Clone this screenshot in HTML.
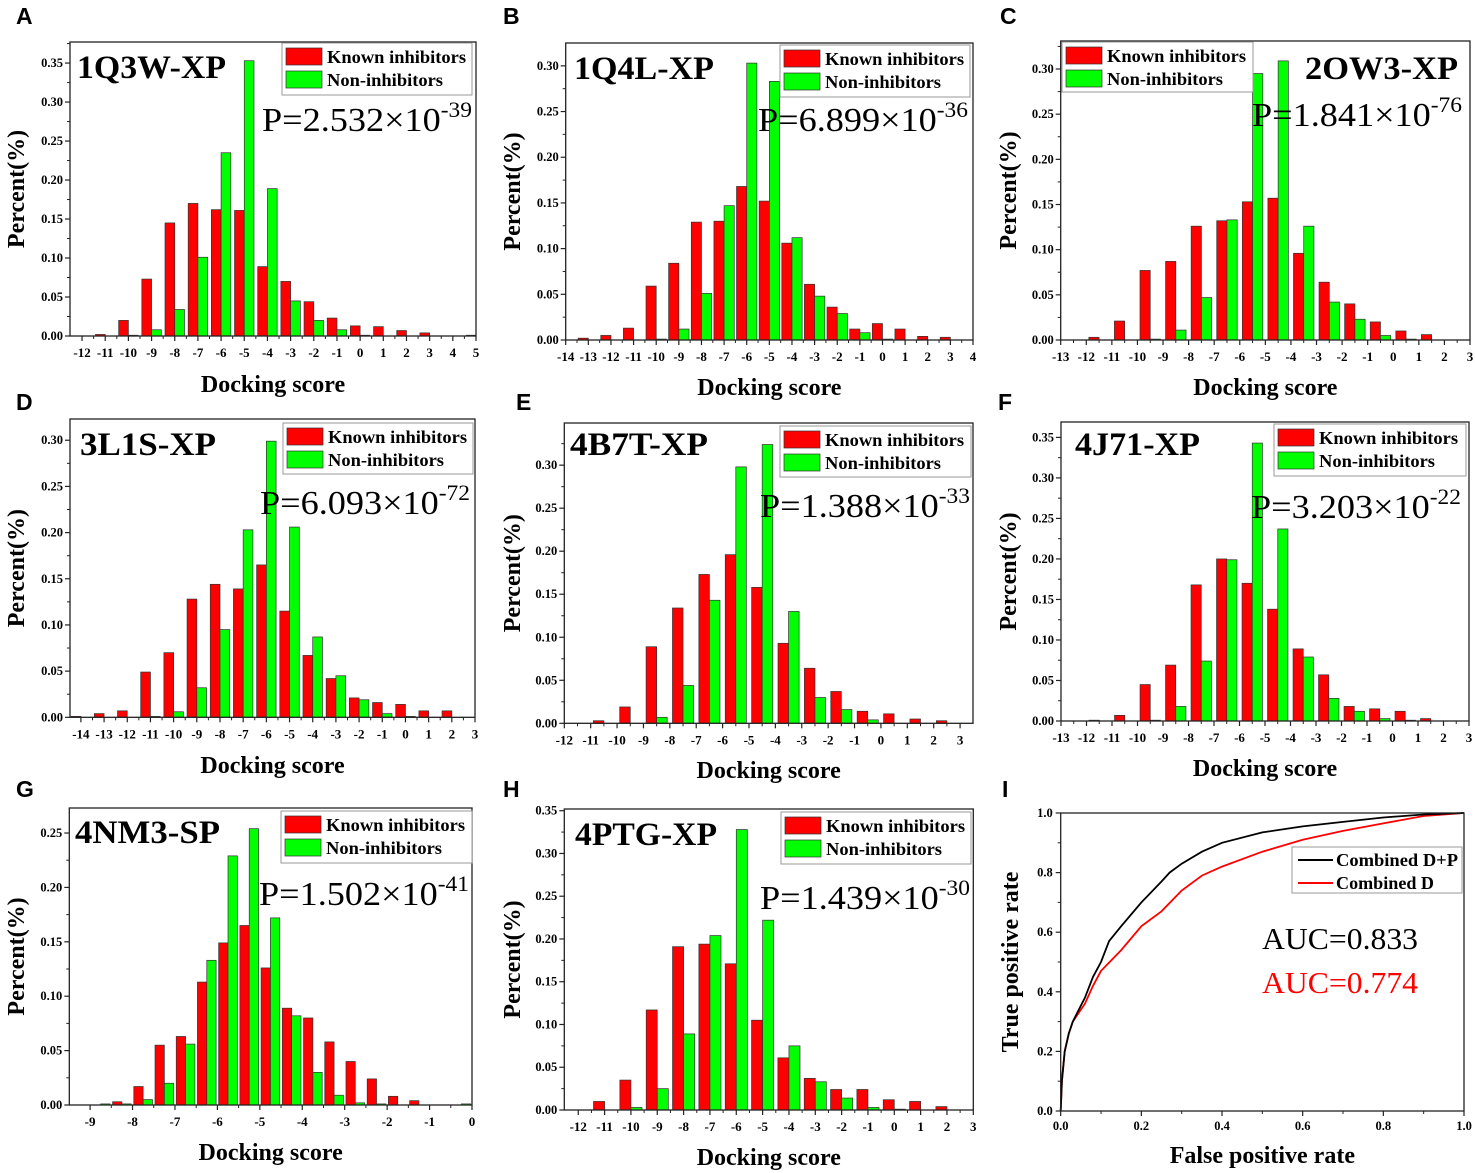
<!DOCTYPE html>
<html><head><meta charset="utf-8">
<style>
html,body{margin:0;padding:0;background:#fff;}
svg{display:block;}
text{font-family:"Liberation Serif",serif;}
.lbl{font-family:"Liberation Sans",sans-serif;font-weight:bold;font-size:23px;}
</style></head>
<body>
<svg id="fig" width="1475" height="1173" viewBox="0 0 1475 1173" xmlns="http://www.w3.org/2000/svg"></svg>
<script>
// ---- data (bin centers, known inhibitors, non-inhibitors) ----
const aCats=[-12,-11,-10,-9,-8,-7,-6,-5,-4,-3,-2,-1,0,1,2,3,4,5];
const aRed=[0,0.002,0.020,0.073,0.145,0.170,0.162,0.161,0.089,0.070,0.044,0.023,0.013,0.012,0.007,0.004,0,0.001];
const aGreen=[0,0,0.001,0.008,0.034,0.101,0.235,0.353,0.189,0.045,0.020,0.008,0.001,0,0,0,0,0];
const bCats=[-13,-12,-11,-10,-9,-8,-7,-6,-5,-4,-3,-2,-1,0,1,2,3];
const bRed=[0.002,0.005,0.013,0.059,0.084,0.129,0.130,0.168,0.152,0.106,0.061,0.036,0.012,0.018,0.012,0.004,0.003];
const bGreen=[0,0,0,0.001,0.012,0.051,0.147,0.303,0.283,0.112,0.048,0.029,0.008,0.001,0,0,0];
const cCats=[-11.5,-10.5,-9.5,-8.5,-7.5,-6.5,-5.5,-4.5,-3.5,-2.5,-1.5,-0.5,0.5,1.5];
const cRed=[0.003,0.021,0.077,0.087,0.126,0.132,0.153,0.157,0.096,0.064,0.040,0.020,0.010,0.006];
const cGreen=[0,0,0.001,0.011,0.047,0.133,0.295,0.309,0.126,0.042,0.023,0.005,0.001,0];
const dCats=[-14,-13,-12,-11,-10,-9,-8,-7,-6,-5,-4,-3,-2,-1,0,1,2];
const dRed=[0.001,0.004,0.007,0.049,0.070,0.128,0.144,0.139,0.165,0.115,0.067,0.042,0.021,0.016,0.014,0.007,0.007];
const dGreen=[0,0,0,0.001,0.006,0.032,0.095,0.203,0.299,0.206,0.087,0.045,0.019,0.004,0.001,0,0];
const eCats=[-10.5,-9.5,-8.5,-7.5,-6.5,-5.5,-4.5,-3.5,-2.5,-1.5,-0.5,0.5,1.5,2.5];
const eRed=[0.003,0.019,0.089,0.134,0.173,0.196,0.158,0.093,0.064,0.037,0.014,0.011,0.005,0.003];
const eGreen=[0,0,0.007,0.044,0.143,0.298,0.324,0.130,0.030,0.016,0.004,0,0,0];
const fCats=[-11.5,-10.5,-9.5,-8.5,-7.5,-6.5,-5.5,-4.5,-3.5,-2.5,-1.5,-0.5,0.5,1.5];
const fRed=[0.001,0.007,0.045,0.069,0.168,0.200,0.170,0.138,0.089,0.057,0.018,0.015,0.012,0.003];
const fGreen=[0,0,0.001,0.018,0.074,0.199,0.343,0.237,0.079,0.028,0.012,0.003,0.001,0];
const gCats=[-8.75,-8.25,-7.75,-7.25,-6.75,-6.25,-5.75,-5.25,-4.75,-4.25,-3.75,-3.25,-2.75,-2.25,-1.75,-1.25,-0.75,-0.25];
const gRed=[0,0.003,0.017,0.055,0.063,0.113,0.149,0.165,0.126,0.089,0.080,0.058,0.040,0.024,0.008,0.004,0,0];
const gGreen=[0.001,0.001,0.005,0.020,0.056,0.133,0.229,0.254,0.172,0.082,0.030,0.009,0.002,0.001,0,0,0,0.001];
const hCats=[-11,-10,-9,-8,-7,-6,-5,-4,-3,-2,-1,0,1,2];
const hRed=[0.010,0.035,0.117,0.191,0.194,0.171,0.105,0.061,0.037,0.024,0.024,0.012,0.010,0.004];
const hGreen=[0,0.003,0.025,0.089,0.204,0.328,0.222,0.075,0.033,0.014,0.003,0.001,0,0];
// ROC curves
const rocFprDP=[0,0.003,0.01,0.02,0.03,0.045,0.06,0.08,0.1,0.12,0.15,0.2,0.25,0.27,0.3,0.35,0.4,0.5,0.6,0.7,0.8,0.9,1];
const rocTprDP=[0,0.1,0.2,0.26,0.3,0.34,0.38,0.45,0.5,0.57,0.62,0.7,0.77,0.8,0.83,0.87,0.9,0.935,0.955,0.97,0.985,0.995,1];
const rocFprD=[0,0.003,0.01,0.02,0.03,0.045,0.06,0.08,0.1,0.15,0.2,0.25,0.3,0.35,0.4,0.5,0.6,0.7,0.8,0.9,1];
const rocTprD=[0,0.1,0.2,0.26,0.3,0.33,0.36,0.42,0.47,0.54,0.62,0.67,0.74,0.79,0.82,0.87,0.91,0.94,0.965,0.99,1];
const xTicksA=[-12,-11,-10,-9,-8,-7,-6,-5,-4,-3,-2,-1,0,1,2,3,4,5];
const xTicksB=[-14,-13,-12,-11,-10,-9,-8,-7,-6,-5,-4,-3,-2,-1,0,1,2,3,4];
const xTicksC=[-13,-12,-11,-10,-9,-8,-7,-6,-5,-4,-3,-2,-1,0,1,2,3];
const xTicksD=[-14,-13,-12,-11,-10,-9,-8,-7,-6,-5,-4,-3,-2,-1,0,1,2,3];
const xTicksE=[-12,-11,-10,-9,-8,-7,-6,-5,-4,-3,-2,-1,0,1,2,3];
const xTicksG=[-9,-8,-7,-6,-5,-4,-3,-2,-1,0];
const yTicks30=[0,0.05,0.10,0.15,0.20,0.25,0.30];
const yTicks35=[0,0.05,0.10,0.15,0.20,0.25,0.30,0.35];
const yTicks25=[0,0.05,0.10,0.15,0.20,0.25];
const rocTicks=[0,0.2,0.4,0.6,0.8,1.0];

const NS="http://www.w3.org/2000/svg";
const fig=document.getElementById('fig');
function mk(tag,attrs,parent,txt){const e=document.createElementNS(NS,tag);for(const k in attrs)e.setAttribute(k,attrs[k]);if(txt!==undefined)e.textContent=txt;(parent||fig).appendChild(e);return e;}

const panels=[
 {id:'a',letter:'A',lx:16,ly:24,L:70,R:476,T:42,B:336,xmin:-12.52,xmax:5,ymax:0.377,cats:aCats,red:aRed,green:aGreen,bw:0.42,xt:xTicksA,yt:yTicks35,title:'1Q3W-XP',tx:77,ty:78,tw:149,p:'2.532',e:'-39',px:262,py:131,lg:[282,43,190,52],xtitleY:392,ytx:16},
 {id:'b',letter:'B',lx:503,ly:24,L:565.7,R:973,T:43,B:340,xmin:-14,xmax:4,ymax:0.325,cats:bCats,red:bRed,green:bGreen,bw:0.45,xt:xTicksB,yt:yTicks30,title:'1Q4L-XP',tx:574,ty:79,tw:140,p:'6.899',e:'-36',px:758,py:131,lg:[780,45,190,52],xtitleY:395,ytx:512},
 {id:'c',letter:'C',lx:1000,ly:24,L:1060.7,R:1470,T:41,B:340,xmin:-13,xmax:3,ymax:0.331,cats:cCats,red:cRed,green:cGreen,bw:0.4,xt:xTicksC,yt:yTicks30,title:'2OW3-XP',tx:1305,ty:79,tw:153,p:'1.841',e:'-76',px:1252,py:126,lg:[1062,42,191,50],xtitleY:395,ytx:1008},
 {id:'d',letter:'D',lx:16,ly:410,L:70,R:475,T:419,B:717.3,xmin:-14.47,xmax:3,ymax:0.323,cats:dCats,red:dRed,green:dGreen,bw:0.42,xt:xTicksD,yt:yTicks30,title:'3L1S-XP',tx:80,ty:455,tw:136,p:'6.093',e:'-72',px:260,py:514,lg:[283,423,190,51],xtitleY:773,ytx:16},
 {id:'e',letter:'E',lx:516,ly:410,L:564.3,R:973,T:423,B:723.3,xmin:-12,xmax:3.49,ymax:0.349,cats:eCats,red:eRed,green:eGreen,bw:0.4,xt:xTicksE,yt:yTicks30,title:'4B7T-XP',tx:570,ty:455,tw:138,p:'1.388',e:'-33',px:760,py:517,lg:[780,426,191,51],xtitleY:778,ytx:512},
 {id:'f',letter:'F',lx:998,ly:410,L:1061,R:1469,T:422,B:721,xmin:-13,xmax:3,ymax:0.369,cats:fCats,red:fRed,green:fGreen,bw:0.4,xt:xTicksC,yt:yTicks35,title:'4J71-XP',tx:1075,ty:455,tw:125,p:'3.203',e:'-22',px:1251,py:518,lg:[1274,424,192,52],xtitleY:776,ytx:1008},
 {id:'g',letter:'G',lx:16,ly:797,L:69.3,R:472,T:808,B:1105,xmin:-9.49,xmax:0,ymax:0.273,cats:gCats,red:gRed,green:gGreen,bw:0.22,xt:xTicksG,yt:yTicks25,title:'4NM3-SP',tx:75,ty:843,tw:145,p:'1.502',e:'-41',px:259,py:905,lg:[281,811,191,52],xtitleY:1160,ytx:16},
 {id:'h',letter:'H',lx:503,ly:797,L:564.3,R:973.3,T:809,B:1110,xmin:-12.53,xmax:3,ymax:0.352,cats:hCats,red:hRed,green:hGreen,bw:0.42,xt:xTicksE,yt:yTicks35,title:'4PTG-XP',tx:575,ty:845,tw:142,p:'1.439',e:'-30',px:760,py:909,lg:[781,812,190,52],xtitleY:1165,ytx:512}
];

panels.forEach(P=>{
  const g=mk('g',{});
  
  
  const sx=v=>P.L+(v-P.xmin)/(P.xmax-P.xmin)*(P.R-P.L);
  const sy=v=>P.B-v/P.ymax*(P.B-P.T);
  const lt=mk('text',{x:P.lx,y:P.ly,class:'lbl'},g,P.letter);
  
  
  P.cats.forEach((c,i)=>{
    if(P.red[i]>0){
      const r=mk('rect',{x:sx(c-P.bw),y:sy(P.red[i]),width:sx(c)-sx(c-P.bw),height:P.B-sy(P.red[i]),fill:'#ff0000',stroke:'#333','stroke-width':0.7},g);
      
      
    }
    if(P.green[i]>0){
      const r=mk('rect',{x:sx(c),y:sy(P.green[i]),width:sx(c+P.bw)-sx(c),height:P.B-sy(P.green[i]),fill:'#00ff00',stroke:'#333','stroke-width':0.7},g);
      
      
    }
  });
  const fr=mk('rect',{x:P.L,y:P.T,width:P.R-P.L,height:P.B-P.T,fill:'none',stroke:'#222','stroke-width':1.3},g);
  
  
  const xstep=P.xt[1]-P.xt[0];
  P.xt.forEach((t,i)=>{
    const x=sx(t);
    mk('line',{x1:x,y1:P.B,x2:x,y2:P.B+5,stroke:'#222','stroke-width':1.2},g);
    if(i<P.xt.length-1){const xm=sx(t+xstep/2);mk('line',{x1:xm,y1:P.B,x2:xm,y2:P.B+3,stroke:'#222','stroke-width':1},g);}
    const tl=mk('text',{x:x,y:P.B+21,'text-anchor':'middle','font-size':13,'font-weight':'bold'},g,String(t));
    
    
  });
  P.yt.forEach((t,i)=>{
    const y=sy(t);
    mk('line',{x1:P.L-5,y1:y,x2:P.L,y2:y,stroke:'#222','stroke-width':1.2},g);
    const ym=sy(t+0.025);
    if(ym>P.T+1) mk('line',{x1:P.L-3,y1:ym,x2:P.L,y2:ym,stroke:'#222','stroke-width':1},g);
    const tl=mk('text',{x:P.L-7,y:y+4,'text-anchor':'end','font-size':12.5,'font-weight':'bold'},g,t.toFixed(2));
    
    
  });
  const xtl=mk('text',{x:(P.L+P.R)/2,y:P.xtitleY,'text-anchor':'middle','font-size':24,'font-weight':'bold'},g,'Docking score');
  
  
  const cy=(P.T+P.B)/2;
  const ytl=mk('text',{x:P.ytx,y:cy,'text-anchor':'middle','font-size':24,'font-weight':'bold',transform:'rotate(-90 '+(P.ytx)+' '+cy+')',dy:8},g,'Percent(%)');
  
  
  const tt=mk('text',{x:P.tx,y:P.ty,'font-size':33,'font-weight':'bold',textLength:P.tw,lengthAdjust:'spacingAndGlyphs'},g,P.title);
  
  
  const pt=mk('text',{x:P.px,y:P.py,'font-size':34,textLength:210,lengthAdjust:'spacingAndGlyphs'},g);
  
  
  mk('tspan',{},pt,'P='+P.p+'×10');
  mk('tspan',{dy:-14,'font-size':22},pt,P.e);
  const [lx,ly,lw,lh]=P.lg;
  const lg=mk('g',{},g);
  
  
  mk('rect',{x:lx,y:ly,width:lw,height:lh,fill:'#fff',stroke:'#999','stroke-width':1},lg);
  mk('rect',{x:lx+4,y:ly+5,width:36,height:17,fill:'#ff0000',stroke:'#333','stroke-width':0.7},lg);
  mk('rect',{x:lx+4,y:ly+28,width:36,height:17,fill:'#00ff00',stroke:'#333','stroke-width':0.7},lg);
  const l1=mk('text',{x:lx+45,y:ly+20,'font-size':18,'font-weight':'bold',textLength:139,lengthAdjust:'spacingAndGlyphs'},lg,'Known inhibitors');
  
  
  const l2=mk('text',{x:lx+45,y:ly+43,'font-size':18,'font-weight':'bold',textLength:116,lengthAdjust:'spacingAndGlyphs'},lg,'Non-inhibitors');
  
  
});

// ---- ROC panel ----
(function(){
  const L=1060.7,R=1464,T=813,B=1111;
  const g=mk('g',{});
  
  
  const sx=v=>L+v*(R-L), sy=v=>B-v*(B-T);
  const lt=mk('text',{x:1002,y:797,class:'lbl'},g,'I');
  
  
  function curve(xs,ys,col,name){
    const d=xs.map((x,i)=>(i?'L':'M')+sx(x).toFixed(1)+' '+sy(ys[i]).toFixed(1)).join(' ');
    const p=mk('path',{d:d,fill:'none',stroke:col,'stroke-width':1.8},g);
    
    
  }
  curve(rocFprD,rocTprD,'#ff0000','roc-curve-combined-d');
  curve(rocFprDP,rocTprDP,'#000','roc-curve-combined-dp');
  const fr=mk('rect',{x:L,y:T,width:R-L,height:B-T,fill:'none',stroke:'#222','stroke-width':1.3},g);
  
  
  rocTicks.forEach((t,i)=>{
    mk('line',{x1:sx(t),y1:B,x2:sx(t),y2:B+5,stroke:'#222','stroke-width':1.2},g);
    mk('line',{x1:L-5,y1:sy(t),x2:L,y2:sy(t),stroke:'#222','stroke-width':1.2},g);
    if(i<rocTicks.length-1){
      mk('line',{x1:sx(t+0.1),y1:B,x2:sx(t+0.1),y2:B+3,stroke:'#222','stroke-width':1},g);
      mk('line',{x1:L-3,y1:sy(t+0.1),x2:L,y2:sy(t+0.1),stroke:'#222','stroke-width':1},g);
    }
    const xl=mk('text',{x:sx(t),y:B+19,'text-anchor':'middle','font-size':12.5,'font-weight':'bold'},g,t.toFixed(1));
    
    
    const yl=mk('text',{x:L-8,y:sy(t)+4,'text-anchor':'end','font-size':12.5,'font-weight':'bold'},g,t.toFixed(1));
    
    
  });
  const xt=mk('text',{x:(L+R)/2,y:1163,'text-anchor':'middle','font-size':24,'font-weight':'bold'},g,'False positive rate');
  
  
  const cy=(T+B)/2;
  const yt=mk('text',{x:1010,y:cy,'text-anchor':'middle','font-size':24,'font-weight':'bold',transform:'rotate(-90 1010 '+cy+')',dy:8},g,'True positive rate');
  
  
  const lg=mk('g',{},g);
  
  
  mk('rect',{x:1292,y:847,width:170,height:46,fill:'#fff',stroke:'#999','stroke-width':1},lg);
  mk('line',{x1:1298,y1:860,x2:1333,y2:860,stroke:'#000','stroke-width':2},lg);
  mk('line',{x1:1298,y1:883,x2:1333,y2:883,stroke:'#ff0000','stroke-width':2},lg);
  const l1=mk('text',{x:1336,y:866,'font-size':17.5,'font-weight':'bold',textLength:122,lengthAdjust:'spacingAndGlyphs'},lg,'Combined D+P');
  
  
  const l2=mk('text',{x:1336,y:889,'font-size':17.5,'font-weight':'bold',textLength:98,lengthAdjust:'spacingAndGlyphs'},lg,'Combined D');
  
  
  const a1=mk('text',{x:1262,y:949,'font-size':31,textLength:156,lengthAdjust:'spacingAndGlyphs'},g,'AUC=0.833');
  
  
  const a2=mk('text',{x:1262,y:993,'font-size':31,fill:'#ff0000',textLength:156,lengthAdjust:'spacingAndGlyphs'},g,'AUC=0.774');
  
  
})();
</script>
</body></html>
